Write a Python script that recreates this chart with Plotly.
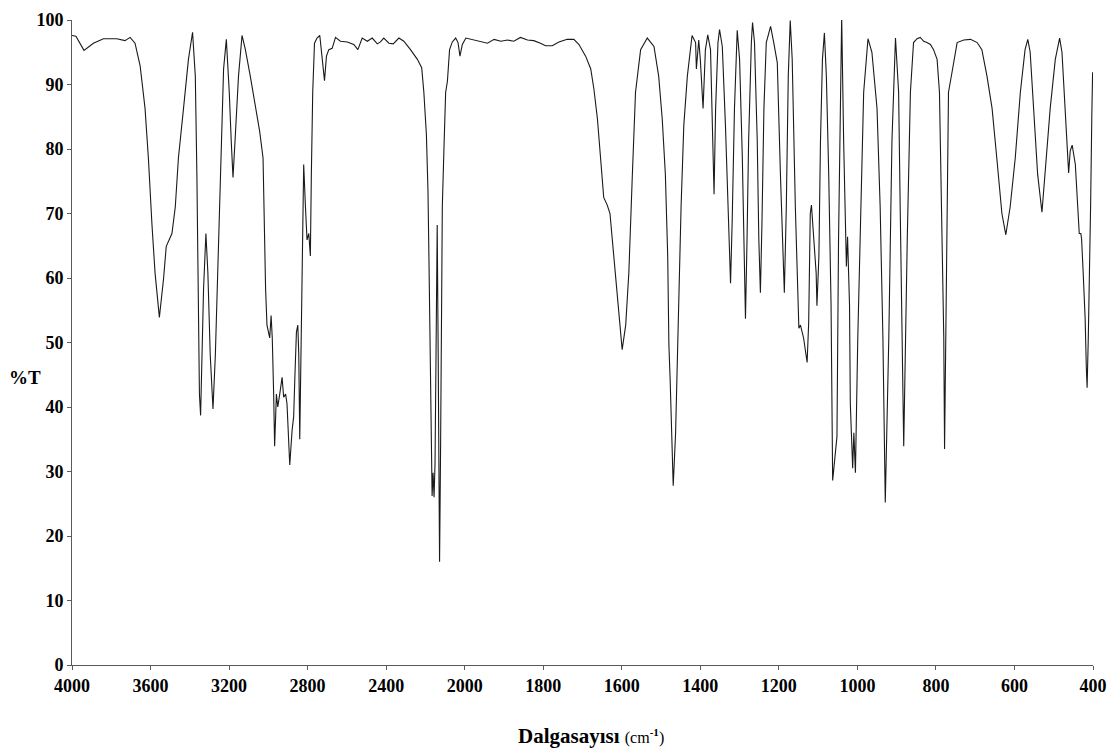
import numpy as np
import plotly.graph_objects as go

# IR spectrum, 4000-2000 cm-1 region
wn_high = [4000, 3980, 3939, 3891, 3840, 3772, 3730, 3704, 3679, 3653, 3628, 3611, 3593,
           3577, 3555, 3534, 3520, 3491, 3474, 3458, 3432, 3407, 3386, 3372, 3364, 3356,
           3351, 3345, 3337, 3330, 3318, 3308, 3296, 3282, 3270, 3254, 3240, 3228, 3214,
           3199, 3189, 3180, 3168, 3152, 3134, 3117, 3092, 3066, 3044, 3027, 3020, 3014,
           3007, 2993, 2986, 2980, 2973, 2968, 2959, 2952, 2942, 2930, 2922, 2912, 2905,
           2896, 2891, 2879, 2871, 2864, 2857, 2850, 2845, 2840, 2833, 2827, 2820, 2811,
           2803, 2794, 2786, 2781, 2774, 2765, 2752, 2738, 2730, 2714, 2704, 2692, 2675,
           2658, 2633, 2598, 2565, 2544, 2522, 2496, 2471, 2445, 2429, 2412, 2386, 2364,
           2335, 2310, 2276, 2241, 2219, 2208, 2195, 2187, 2182, 2177, 2170, 2168, 2166,
           2161, 2156, 2151, 2145, 2140, 2135, 2130, 2128, 2123, 2117, 2114, 2106, 2097,
           2088, 2077, 2063, 2046, 2034, 2024, 2012]
t_high = [97.6, 97.5, 95.3, 96.4, 97.1, 97.1, 96.8, 97.3, 96.4, 92.9, 86.3, 78.6, 68.4,
          60.8, 53.9, 59.8, 64.9, 66.9, 71.0, 78.6, 86.3, 93.9, 98.1, 91.3, 76.1, 53.2,
          42.0, 38.7, 50.7, 58.3, 66.9, 60.8, 48.1, 39.7, 48.0, 65.9, 81.2, 92.4, 97.0,
          88.8, 81.2, 75.6, 82.2, 91.3, 97.6, 95.4, 91.3, 86.8, 82.7, 78.6, 65.9, 58.3,
          52.7, 50.7, 54.2, 50.7, 42.0, 33.9, 42.0, 40.0, 42.0, 44.6, 41.5, 42.0, 40.5,
          34.4, 31.0, 36.4, 38.5, 45.5, 51.6, 52.7, 48.1, 35.0, 50.7, 65.9, 77.6, 71.0,
          65.9, 66.9, 63.4, 76.1, 88.8, 96.4, 97.2, 97.6, 95.4, 90.6, 94.4, 95.4, 95.6,
          97.3, 96.7, 96.6, 96.2, 95.4, 97.2, 96.7, 97.2, 96.3, 96.6, 97.2, 96.4, 96.3,
          97.2, 96.7, 95.4, 93.9, 92.6, 88.8, 82.2, 73.5, 62.9, 50.7, 42.5, 34.4, 26.2,
          29.8, 26.0, 31.3, 55.7, 68.2, 48.1, 22.1, 16.0, 32.8, 55.7, 71.0, 79.7, 88.8,
          90.5, 95.4, 96.6, 97.2, 96.5, 94.4, 96.2]

# IR spectrum, 2000-400 cm-1 region
wn_low = [2000, 1997, 1942, 1925, 1908, 1891, 1875, 1858, 1840, 1824, 1807, 1794, 1777,
          1760, 1739, 1722, 1709, 1692, 1679, 1671, 1662, 1654, 1646, 1637, 1630, 1624,
          1616, 1607, 1599, 1590, 1582, 1573, 1565, 1552, 1535, 1518, 1506, 1497, 1489,
          1483, 1480, 1477, 1471, 1469, 1463, 1459, 1455, 1449, 1442, 1433, 1421, 1412,
          1410, 1406, 1404, 1400, 1393, 1387, 1381, 1374, 1367, 1365, 1361, 1355, 1351,
          1344, 1336, 1327, 1323, 1319, 1313, 1306, 1300, 1293, 1288, 1285, 1281, 1277,
          1270, 1267, 1262, 1255, 1251, 1247, 1243, 1238, 1232, 1221, 1213, 1204, 1196,
          1191, 1186, 1181, 1176, 1171, 1166, 1158, 1149, 1145, 1137, 1128, 1124, 1120,
          1117, 1111, 1105, 1103, 1098, 1094, 1089, 1084, 1079, 1073, 1067, 1063, 1059,
          1052, 1048, 1043, 1040, 1035, 1031, 1028, 1025, 1020, 1018, 1014, 1012, 1009,
          1005, 999, 992, 984, 973, 963, 950, 942, 935, 929, 920, 912, 903, 895, 891,
          886, 882, 873, 865, 857, 848, 840, 831, 823, 814, 806, 797, 791, 785, 780, 778,
          772, 768, 759, 746, 729, 712, 695, 683, 670, 657, 645, 632, 622, 611, 598, 585,
          573, 566, 560, 551, 541, 530, 522, 509, 496, 485, 479, 471, 465, 462, 458, 453,
          445, 440, 435, 431, 429, 425, 420, 417, 415, 412, 409, 406, 403, 401]
t_low = [97.0, 97.2, 96.4, 97.0, 96.7, 96.9, 96.7, 97.3, 96.9, 96.8, 96.4, 96.0, 96.0,
         96.6, 97.0, 97.0, 96.2, 94.4, 92.4, 89.3, 84.7, 78.6, 72.5, 71.3, 70.0, 65.9,
         60.8, 54.2, 48.9, 52.7, 60.8, 76.1, 88.8, 95.4, 97.2, 95.9, 91.3, 84.7, 76.1,
         63.4, 49.6, 44.6, 30.2, 27.8, 35.9, 46.1, 55.7, 71.0, 83.7, 91.3, 97.6, 96.5,
         92.4, 95.0, 96.9, 93.9, 86.3, 95.4, 97.7, 95.4, 78.6, 73.0, 86.3, 96.5, 98.5,
         95.9, 83.7, 68.4, 59.2, 68.4, 86.3, 98.4, 93.9, 78.6, 60.8, 53.7, 66.0, 81.2,
         96.5, 99.6, 96.5, 81.2, 66.0, 57.7, 68.5, 86.3, 96.5, 99.0, 96.5, 93.4, 76.1,
         66.0, 57.7, 71.0, 91.3, 99.9, 93.9, 71.0, 52.2, 52.7, 50.7, 46.9, 53.1, 70.0,
         71.3, 66.0, 60.8, 55.7, 63.4, 81.2, 93.9, 98.0, 91.3, 76.1, 55.7, 28.6, 31.0,
         35.4, 66.0, 91.3, 100.5, 81.2, 66.0, 61.8, 66.4, 55.7, 40.5, 32.4, 30.5, 36.0,
         29.8, 50.7, 71.0, 88.8, 97.1, 95.0, 86.3, 71.0, 50.7, 25.2, 50.7, 81.2, 97.2, 88.8, 71.0,
         50.7, 33.9, 66.0, 88.8, 96.5, 97.1, 97.3, 96.7, 96.5, 96.2, 95.4, 93.9, 88.8, 71.0, 50.7, 33.5,
         71.0, 88.8, 91.9, 96.5, 96.9, 97.0, 96.5, 95.4, 91.3, 86.3, 78.6, 70.0, 66.7, 71.0, 78.6, 88.8,
         95.4, 97.0, 95.0, 86.3, 76.1, 70.2, 76.1, 86.3, 93.9, 97.2, 95.0, 86.3, 78.6, 76.3, 79.7, 80.6,
         77.6, 73.0, 66.9, 66.9, 66.0, 60.8, 53.7, 46.1, 43.0, 50.7, 59.2, 71.5, 85.2, 91.9]

x_tick_labels = [4000, 3600, 3200, 2800, 2400, 2000, 1800, 1600, 1400, 1200, 1000, 800, 600, 400]
y_tick_values = [0, 10, 20, 30, 40, 50, 60, 70, 80, 90, 100]


def axis_pos(w):
    """Map wavenumber onto the split-scale axis (half scale above 2000 cm-1)."""
    w = np.asarray(w, dtype=float)
    return np.where(w >= 2000, (4000 - w) / 2.0, 1000 + (2000 - w))


wn = np.array(wn_high + wn_low)
tr = np.array(t_high + t_low)

serif = "Liberation Serif, Times New Roman, serif"
axis_col = "#5a5a5a"

fig = go.Figure()
fig.add_trace(go.Scatter(
    x=axis_pos(wn), y=tr, mode="lines",
    line=dict(color="#1a1a1a", width=1.1), showlegend=False,
))

tick_font = dict(family=serif, size=18, color="black")

fig.update_layout(
    width=1118, height=755,
    margin=dict(l=72, r=25, t=10, b=90),
    paper_bgcolor="white", plot_bgcolor="white",
    font=dict(family=serif, color="black"),
    xaxis=dict(
        range=[0, 2600], tickmode="array",
        tickvals=axis_pos(x_tick_labels).tolist(),
        ticktext=[f"<b>{v}</b>" for v in x_tick_labels],
        showgrid=False, zeroline=False,
        showline=True, linecolor=axis_col, linewidth=1,
        ticks="outside", ticklen=4, tickcolor=axis_col,
        tickfont=tick_font,
    ),
    yaxis=dict(
        range=[0, 100], tickmode="array", tickvals=y_tick_values,
        ticktext=[f"<b>{v}</b>" for v in y_tick_values],
        showgrid=False, zeroline=False,
        showline=True, linecolor=axis_col, linewidth=1,
        ticks="outside", ticklen=4, tickcolor=axis_col,
        tickfont=tick_font,
    ),
    annotations=[
        dict(text="<b>%T</b>", xref="paper", yref="paper", x=-0.0635, y=0.445,
             xanchor="left", yanchor="middle", showarrow=False,
             font=dict(family=serif, size=19, color="black")),
        dict(text="<b>Dalgasayısı</b> <span style='font-size:16px'>(cm<sup><b>-1</b></sup>)</span>",
             xref="paper", yref="paper", x=0.508, y=-0.088,
             xanchor="center", yanchor="top", showarrow=False,
             font=dict(family=serif, size=21, color="black")),
    ],
)

fig.write_html("out.html")
